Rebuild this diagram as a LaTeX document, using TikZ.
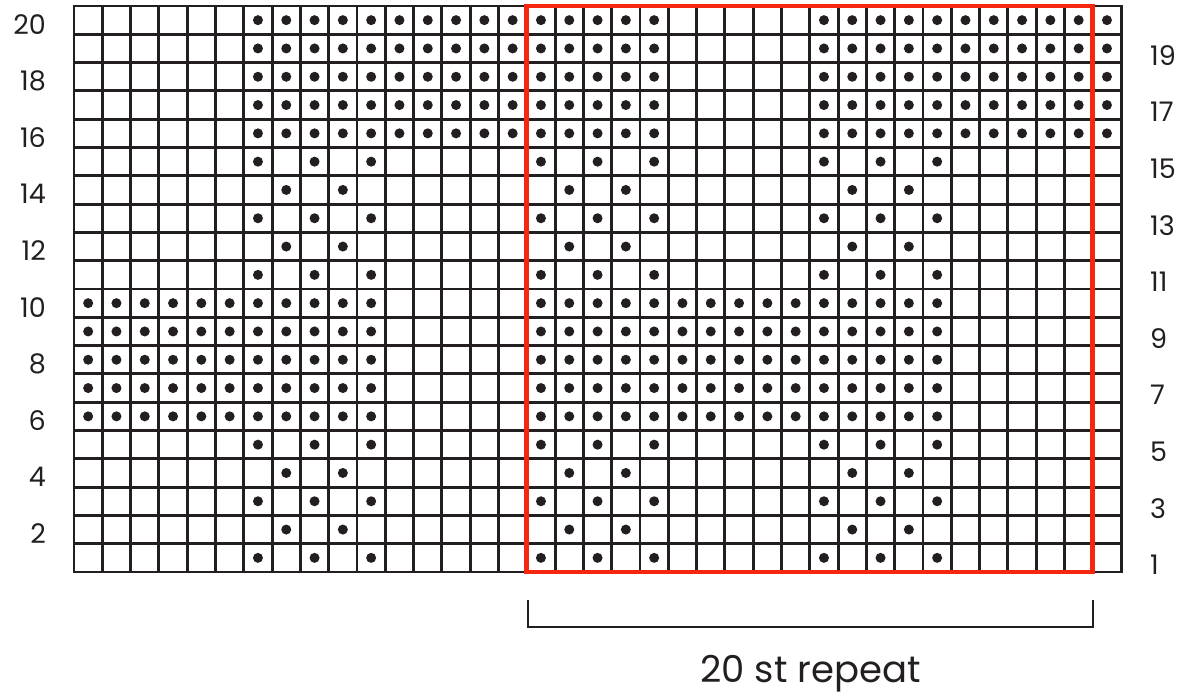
\documentclass[tikz,border=0pt]{standalone}
\usepackage{fontspec}
\setmainfont{Poppins}
\definecolor{ink}{RGB}{35,31,32}
\definecolor{rep}{RGB}{245,40,15}
\begin{document}
\begin{tikzpicture}[x=1pt,y=-1pt,
  gridline/.style={ink,line width=2.9pt},
  stitch/.style={fill=ink,draw=none},
  rowlab/.style={font=\fontsize{27}{27}\selectfont,text=ink,inner sep=0pt},
  caption/.style={font=\fontsize{37}{37}\selectfont,text=ink,inner sep=0pt},
  repeatbox/.style={rep,line width=4.7pt},
  bracket/.style={ink,line width=2.5pt}]
\useasboundingbox (0,0) rectangle (1185,694);
\def\s{28.3}
\def\xo{74}
\def\yo{6}
% grid
\foreach \i in {1,...,36} \draw[gridline] ({\xo+\i*\s},\yo) -- ({\xo+\i*\s},{\yo+20*\s});
\foreach \j in {1,...,19} \draw[gridline] (\xo,{\yo+\j*\s}) -- ({\xo+37*\s},{\yo+\j*\s});
\draw[gridline] (\xo,\yo) rectangle ({\xo+37*\s},{\yo+20*\s});
% stitches
\newcommand{\stitchat}[2]{\fill[stitch] ({\xo+(#1-0.5)*\s},{\yo+(20.5-#2)*\s}) circle (5);}
\foreach \r in {16,...,20}{
  \foreach \c in {7,...,21} {\stitchat{\c}{\r}}
  \foreach \c in {27,...,37} {\stitchat{\c}{\r}}
}
\foreach \r in {6,...,10}{
  \foreach \c in {1,...,11} {\stitchat{\c}{\r}}
  \foreach \c in {17,...,31} {\stitchat{\c}{\r}}
}
\foreach \r in {1,3,5,11,13,15}{
  \foreach \c in {7,9,11,17,19,21,27,29,31} {\stitchat{\c}{\r}}
}
\foreach \r in {2,4,12,14}{
  \foreach \c in {8,10,18,20,28,30} {\stitchat{\c}{\r}}
}
% repeat box
\draw[repeatbox] ({\xo+16*\s},\yo) rectangle ({\xo+36*\s},{\yo+20*\s});
% row labels
\foreach \r in {2,4,...,20}
  \node[rowlab,anchor=east] (L\r) at (46,{\yo+(20.5-\r)*\s+4}) {\r};
\foreach \r in {1,3,...,19}
  \node[rowlab,anchor=west] (R\r) at (1150,{\yo+(20.5-\r)*\s+7}) {\r};
% bracket
\coordinate (bA) at ({\xo+16*\s+1},600);
\coordinate (bB) at ({\xo+16*\s+1},627);
\coordinate (bC) at ({\xo+36*\s},627);
\coordinate (bD) at ({\xo+36*\s},600);
\draw[bracket] (bA) -- (bB) -- (bC) -- (bD);
\node[caption,anchor=base] (cap) at (810.5,682) {20 st repeat};
\end{tikzpicture}
\end{document}
